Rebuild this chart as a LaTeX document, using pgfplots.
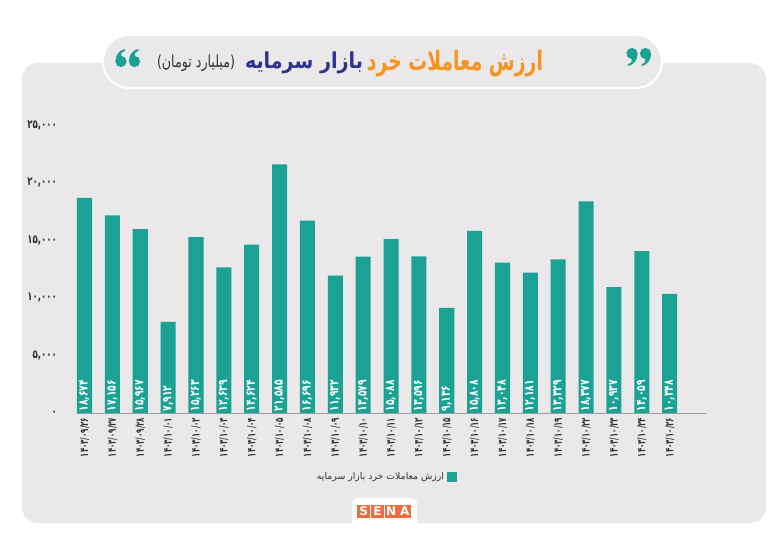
\documentclass[border=0pt]{standalone}
\usepackage{pgfplots}
\pgfplotsset{compat=1.18}
\usepackage{pgfplotstable}
\usepackage{fontspec}
\usepackage{graphicx}
\setmainfont{DejaVu Sans}
\newfontfamily\fa[Script=Arabic]{DejaVu Sans}
\newfontfamily\fac[Script=Arabic,FakeStretch=0.72]{DejaVu Sans}
\newfontfamily\facx[Script=Arabic,FakeStretch=0.62]{DejaVu Sans}
\TeXXeTstate=1
\definecolor{barc}{HTML}{1BA294}
\definecolor{panel}{HTML}{EAE8E9}
\definecolor{ttlor}{HTML}{F7931E}
\definecolor{ttlbl}{HTML}{2E3192}
\definecolor{txt}{HTML}{333333}
\definecolor{logo}{HTML}{F26B3A}
\newcommand\qsix[3]{% x, y, rotation
  \begin{scope}[shift={(#1,#2)}, rotate=#3]
    \fill[barc] (0,0) circle (5.6);
    \fill[barc] (-5.6,0) .. controls (-5.6,6.5) and (-2,11) .. (3.5,12.5)
      -- (4,10.6) .. controls (0.5,9.5) and (-1,7.5) .. (0.5,5.6) -- (0,0) -- cycle;
  \end{scope}}
\pgfplotstableread{
x y lab
0 18674 ۱۸,۶۷۴
1 17156 ۱۷,۱۵۶
2 15967 ۱۵,۹۶۷
3 7912 ۷,۹۱۲
4 15263 ۱۵,۲۶۳
5 12639 ۱۲,۶۳۹
6 14624 ۱۴,۶۲۴
7 21585 ۲۱,۵۸۵
8 16696 ۱۶,۶۹۶
9 11932 ۱۱,۹۳۲
10 13579 ۱۳,۵۷۹
11 15088 ۱۵,۰۸۸
12 13596 ۱۳,۵۹۶
13 9136 ۹,۱۳۶
14 15808 ۱۵,۸۰۸
15 13048 ۱۳,۰۴۸
16 12181 ۱۲,۱۸۱
17 13329 ۱۳,۳۲۹
18 18377 ۱۸,۳۷۷
19 10937 ۱۰,۹۳۷
20 14059 ۱۴,۰۵۹
21 10348 ۱۰,۳۴۸
}\datatable
\begin{document}
\begin{tikzpicture}[x=0.75pt,y=0.75pt]
\useasboundingbox (0,0) rectangle (769,544);
\fill[white] (0,0) rectangle (769,544);
% panel
\fill[panel, rounded corners=12pt] (22,21) rectangle (766,481);
% title pill
\draw[white, line width=1.6pt, fill=panel, rounded corners=19.5pt] (103,456) rectangle (662,509);
\node[text=ttlor, inner sep=0pt] at (455,480.5) {\resizebox*{132pt}{20pt}{\fa\bfseries\fontsize{16}{18}\selectfont\beginR ارزش معاملات خرد\endR}};
\node[text=ttlbl, inner sep=0pt] at (304,481.5) {\resizebox*{88.5pt}{16.5pt}{\fa\bfseries\fontsize{16}{18}\selectfont\beginR بازار سرمایه\endR}};
\node[text=txt, inner sep=0pt] at (196,480.5) {\resizebox*{58.5pt}{12.5pt}{\fa\fontsize{8}{9}\selectfont )\beginR میلیارد تومان\endR(}};
% quote marks
\qsix{121}{482.5}{0}
\qsix{134.5}{482.5}{0}
\qsix{632}{490.5}{180}
\qsix{645.5}{490.5}{180}
% logo
\fill[white, rounded corners=4pt] (352,10) rectangle (417,46);
\foreach \i/\l in {0/S,1/E,2/N,3/A} {
  \fill[logo] (357+\i*13.75,26) rectangle (357+\i*13.75+13.2,39);
  \node[text=white, font=\bfseries\fontsize{9}{9}\selectfont, inner sep=0pt] at (357+\i*13.75+6.6,32.5) {\l};
}
\begin{axis}[
  at={(57.75pt,98.25pt)}, anchor=south west,
  scale only axis, width=472.5pt, height=216pt,
  xmin=-0.27, xmax=22.34, ymin=0, ymax=25000,
  scaled y ticks=false,
  axis x line=bottom, axis y line=left,
  x axis line style={draw=gray!75, -, line width=0.6pt},
  y axis line style={draw=none},
  major tick length=0pt,
  xtick={0,...,21},
  xticklabels={۱۴۰۳/۰۹/۲۶,۱۴۰۳/۰۹/۲۷,۱۴۰۳/۰۹/۲۸,۱۴۰۳/۱۰/۰۱,۱۴۰۳/۱۰/۰۲,۱۴۰۳/۱۰/۰۳,۱۴۰۳/۱۰/۰۴,۱۴۰۳/۱۰/۰۵,۱۴۰۳/۱۰/۰۸,۱۴۰۳/۱۰/۰۹,۱۴۰۳/۱۰/۱۰,۱۴۰۳/۱۰/۱۱,۱۴۰۳/۱۰/۱۲,۱۴۰۳/۱۰/۱۵,۱۴۰۳/۱۰/۱۶,۱۴۰۳/۱۰/۱۷,۱۴۰۳/۱۰/۱۸,۱۴۰۳/۱۰/۱۹,۱۴۰۳/۱۰/۲۲,۱۴۰۳/۱۰/۲۳,۱۴۰۳/۱۰/۲۴,۱۴۰۳/۱۰/۲۶},
  ytick={0,5000,10000,15000,20000,25000},
  yticklabels={{۰},{۵,۰۰۰},{۱۰,۰۰۰},{۱۵,۰۰۰},{۲۰,۰۰۰},{۲۵,۰۰۰}},
  yticklabel style={font=\fac\bfseries\fontsize{9}{10}\selectfont, text=txt, anchor=east, xshift=-11.5pt},
  xticklabel style={rotate=90, anchor=east, font=\facx\bfseries\fontsize{8.5}{9}\selectfont, text=txt},
  clip=false,
  legend style={at={(0.4897,-0.222)}, anchor=center, draw=none, fill=none,
    legend plot pos=right, font=\fa\fontsize{7}{8}\selectfont, text=txt},
  legend image code/.code={\fill[barc] (6pt,-3.6pt) rectangle (13.5pt,3.6pt);},
]
\addplot[ybar, bar width=0.54, fill=barc, draw=none] table[x=x,y=y]{\datatable};
\addlegendentry{\beginR ارزش معاملات خرد بازار سرمایه\endR}
\addplot[draw=none, mark=none, forget plot, nodes near coords, point meta=explicit symbolic,
  every node near coord/.style={rotate=90, anchor=west, text=white, inner sep=1pt,
    font=\fac\bfseries\fontsize{9.5}{10}\selectfont}]
  table[x=x, y expr=0, meta=lab]{\datatable};
\end{axis}
\end{tikzpicture}
\end{document}
